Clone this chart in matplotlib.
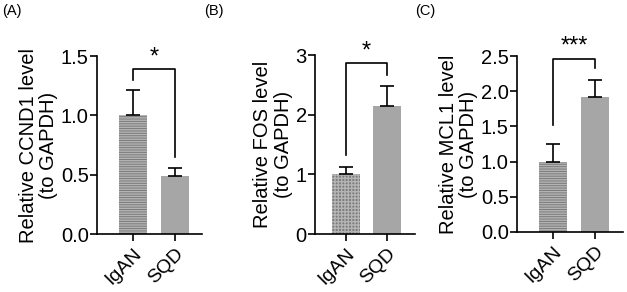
import matplotlib
matplotlib.use("Agg")
import matplotlib.pyplot as plt

plt.rcParams['font.family'] = ['Liberation Sans', 'DejaVu Sans']
plt.rcParams['hatch.linewidth'] = 1.0
plt.rcParams['axes.linewidth'] = 1.2

groups = ['IgAN', 'SQD']

# CCND1 panel
ccnd1_mean = [1.0, 0.49]
ccnd1_err = [0.21, 0.07]
ccnd1_ticks = [0.0, 0.5, 1.0, 1.5]
ccnd1_bracket = [1.30, 1.39, 0.65]

# FOS panel
fos_mean = [1.0, 2.15]
fos_err = [0.12, 0.33]
fos_ticks = [0, 1, 2, 3]
fos_bracket = [1.32, 2.86, 2.66]

# MCL1 panel
mcl1_mean = [1.0, 1.92]
mcl1_err = [0.25, 0.24]
mcl1_ticks = [0.0, 0.5, 1.0, 1.5, 2.0, 2.5]
mcl1_bracket = [1.52, 2.46, 2.33]

panels = [
    ('(A)', 'CCND1', ccnd1_mean, ccnd1_err, ccnd1_ticks, '{:.1f}', '*', ccnd1_bracket, '-------',
     [0.1547, 0.1986, 0.1675, 0.6094], (-0.857, 1.643)),
    ('(B)', 'FOS', fos_mean, fos_err, fos_ticks, '{:d}', '*', fos_bracket, '+++++',
     [0.5024, 0.1986, 0.1595, 0.6130], (-0.756, 1.68)),
    ('(C)', 'MCL1', mcl1_mean, mcl1_err, mcl1_ticks, '{:.1f}', '***', mcl1_bracket, '-------',
     [0.8246, 0.2055, 0.1690, 0.6027], (-0.857, 1.667)),
]

fig = plt.figure(figsize=(6.27, 2.92), dpi=100)

label_x = [0.003, 0.325, 0.662]

for i, (tag, gene, mean, err, ticks, fmt, stars, br, hatch, pos, xl) in enumerate(panels):
    ax = fig.add_axes(pos)
    x = [0, 1]
    ax.bar(x[0], mean[0], width=0.67, color='#7b7b7b', edgecolor='#b4b4b4',
           hatch=hatch, linewidth=0)
    ax.bar(x[1], mean[1], width=0.67, color='#a6a6a6', linewidth=0)
    ax.errorbar(x, mean, yerr=[[0, 0], err], fmt='none', ecolor='black',
                elinewidth=1.2, capsize=4.8, capthick=1.2)
    # significance bracket
    left_leg, top, right_leg = br
    ax.plot([0, 0, 1, 1], [left_leg, top, top, right_leg], color='black', lw=1.2,
            clip_on=False)
    ax.text(0.5, top + (ticks[-1] - ticks[0]) * 0.005, stars, ha='center', va='bottom',
            fontsize=17, clip_on=False)

    ax.set_ylim(ticks[0], ticks[-1])
    ax.set_xlim(*xl)
    ax.set_yticks(ticks)
    ax.set_yticklabels([fmt.format(t) for t in ticks], fontsize=14.5)
    ax.set_xticks(x)
    ax.set_xticklabels(groups, fontsize=14, rotation=45, ha='right',
                       rotation_mode='anchor')
    ax.tick_params(direction='out', length=5, width=1.2, pad=1)
    ax.tick_params(axis='x', pad=3)
    ax.spines['top'].set_visible(False)
    ax.spines['right'].set_visible(False)
    ax.set_ylabel('Relative ' + gene + ' level\n(to GAPDH)', fontsize=14.5,
                  linespacing=1.1, labelpad=2)
    fig.text(label_x[i], 0.985, tag, fontsize=10.5, ha='left', va='top')

fig.savefig('out.png', dpi=100)
